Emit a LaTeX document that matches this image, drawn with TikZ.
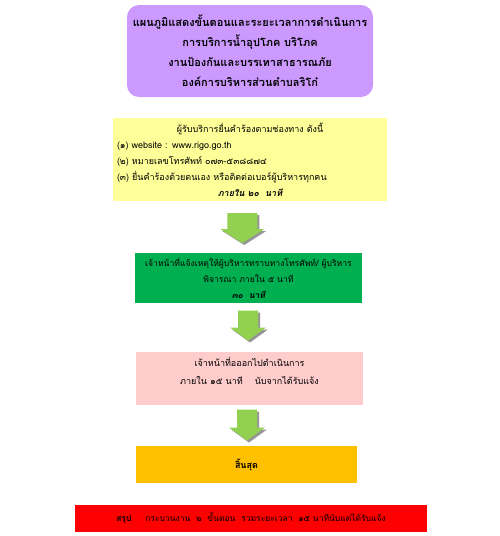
\documentclass[tikz,border=0pt]{standalone}
\usepackage{fontspec}
\setmainfont[Script=Thai]{Loma}
\usetikzlibrary{positioning,calc}

\definecolor{titlepurple}{RGB}{204,153,255}
\definecolor{requestyellow}{RGB}{255,255,153}
\definecolor{notifygreen}{RGB}{0,176,80}
\definecolor{actionpink}{RGB}{255,204,204}
\definecolor{endorange}{RGB}{255,192,0}
\definecolor{sumred}{RGB}{255,0,0}
\definecolor{arrowgreen}{RGB}{146,208,80}
\definecolor{arrowshadow}{RGB}{150,150,150}

% block arrow: top centre, shaft half width, head half width, shaft length, head length
\newcommand{\flowarrow}[5]{%
  \foreach \dx/\col in {2/arrowshadow,0/arrowgreen}
    \fill[\col] ($(#1)+(\dx,\dx)$) ++(-#2,0) -- ++(2*#2,0) -- ++(0,#4) -- ++(#3-#2,0)
      -- ++(-#3,#5) -- ++(-#3,-#5) -- ++(#3-#2,0) -- cycle;}

\begin{document}
\begin{tikzpicture}[x=1pt,y=-1pt]
  \tikzstyle{stage}=[inner sep=0pt,align=center,font=\fontsize{9}{16}\selectfont]
  \useasboundingbox (0,0) rectangle (500,536);
  \node[stage,fill=titlepurple,rounded corners=12pt,minimum width=246pt,minimum height=92pt,
        font=\bfseries\fontsize{11}{20}\selectfont] (title) at (250,51)
    {แผนภูมิแสดงขั้นตอนและระยะเวลาการดำเนินการ\\ การบริการน้ำอุปโภค บริโภค\\
     งานป้องกันและบรรเทาสาธารณภัย\\ องค์การบริหารส่วนตำบลริโก๋};
  \node[stage,fill=requestyellow,minimum width=274pt,minimum height=83pt,
        text width=266pt,align=left] (request) at (250,159.5)
    {\makebox[\linewidth][c]{ผู้รับบริการยื่นคำร้องตามช่องทาง ดังนี้}\\
     (๑) website : www.rigo.go.th\\
     (๒) หมายเลขโทรศัพท์ ๐๗๓-๕๓๘๘๗๔\\
     (๓) ยื่นคำร้องด้วยตนเอง หรือติดต่อเบอร์ผู้บริหารทุกคน\\
     \makebox[\linewidth][c]{\bfseries\itshape ภายใน ๒๐\ \ นาที}};
  \node[stage,fill=notifygreen,minimum width=227pt,minimum height=50pt,
        font=\fontsize{8.6}{16}\selectfont] (notify) at (248.5,278)
    {เจ้าหน้าที่แจ้งเหตุให้ผู้บริหารทราบทางโทรศัพท์/ ผู้บริหาร\\ พิจารณา ภายใน ๕ นาที\\
     {\bfseries\itshape ๓๐\ \ นาที}};
  \node[stage,fill=actionpink,minimum width=227pt,minimum height=53pt,
        font=\fontsize{9}{18}\selectfont] (action) at (249.5,378.5)
    {เจ้าหน้าที่อออกไปดำเนินการ\\ ภายใน ๑๕ นาที\hspace{12pt}นับจากได้รับแจ้ง\\[-2pt]};
  \node[stage,fill=endorange,minimum width=221pt,minimum height=37pt,font=\bfseries\fontsize{9}{16}\selectfont]
    (finish) at (246.5,464.5) {สิ้นสุด};
  \node[stage,fill=sumred,minimum width=352pt,minimum height=27pt,font=\fontsize{8.5}{14}\selectfont]
    (summary) at (251,518.5)
    {{\bfseries สรุป}\hspace{14pt}กระบวนงาน\ \ ๒\ \ ขั้นตอน\ \ รวมระยะเวลา\ \ ๑๕ นาทีนับแต่ได้รับแจ้ง};
  \coordinate (a1) at ($(request.south)!0.5!(notify.north)+(-7,-14)$);
  \coordinate (a2) at ($(notify.south)!0.5!(action.north)+(-1,-17)$);
  \coordinate (a3) at ($(action.south)!0.5!(finish.north)+(-1,-16)$);
  \flowarrow{a1}{15}{22}{16}{14}
  \flowarrow{a2}{10}{18}{17}{13}
  \flowarrow{a3}{10}{18}{18}{13}
\end{tikzpicture}
\end{document}
